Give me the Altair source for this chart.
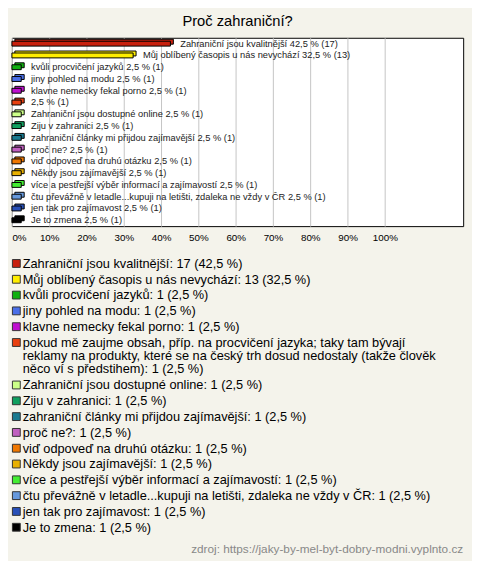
import altair as alt

# ---------------- data ----------------
bar_labels = [
    "Zahraniční jsou kvalitnější",
    "Můj oblíbený časopis u nás nevychází",
    "kvůli procvičení jazyků",
    "jiny pohled na modu",
    "klavne nemecky fekal porno",
    "",
    "Zahraniční jsou dostupné online",
    "Ziju v zahranici",
    "zahraniční články mi přijdou zajímavější",
    "proč ne?",
    "viď odpoveď na druhú otázku",
    "Někdy jsou zajímavější",
    "více a pestřejší výběr informací a zajímavostí",
    "čtu převážně v letadle...kupuji na letišti, zdaleka ne vždy v ČR",
    "jen tak pro zajímavost",
    "Je to zmena",
]
legend_names = [
    ["Zahraniční jsou kvalitnější"],
    ["Můj oblíbený časopis u nás nevychází"],
    ["kvůli procvičení jazyků"],
    ["jiny pohled na modu"],
    ["klavne nemecky fekal porno"],
    ["pokud mě zaujme obsah, příp. na procvičení jazyka; taky tam bývají",
     "reklamy na produkty, které se na český trh dosud nedostaly (takže člověk",
     "něco ví s předstihem)"],
    ["Zahraniční jsou dostupné online"],
    ["Ziju v zahranici"],
    ["zahraniční články mi přijdou zajímavější"],
    ["proč ne?"],
    ["viď odpoveď na druhú otázku"],
    ["Někdy jsou zajímavější"],
    ["více a pestřejší výběr informací a zajímavostí"],
    ["čtu převážně v letadle...kupuji na letišti, zdaleka ne vždy v ČR"],
    ["jen tak pro zajímavost"],
    ["Je to zmena"],
]
counts = [17, 13, 1, 1, 1, 1, 1, 1, 1, 1, 1, 1, 1, 1, 1, 1]
percents = [42.5, 32.5, 2.5, 2.5, 2.5, 2.5, 2.5, 2.5, 2.5, 2.5, 2.5, 2.5, 2.5, 2.5, 2.5, 2.5]
colors = [
    "#C8200E", "#FFEE00", "#10B010", "#4A6FE8", "#C010D0", "#E84010",
    "#CCFF88", "#10A060", "#1A7A90", "#C060C0", "#F07800", "#E8B000",
    "#44EE33", "#6699DD", "#2850B8", "#000000",
]
tick_values = [0, 10, 20, 30, 40, 50, 60, 70, 80, 90, 100]
title_text = "Proč zahraniční?"
source_text = "zdroj: https://jaky-by-mel-byt-dobry-modni.vyplnto.cz"

FONT = "Liberation Sans"
LINE_RATIO = 13.5 / 16.0

# ---------------- build records ----------------
def fmt(p):
    return ("%.1f" % p).replace(".", ",")

records = []
extra = 0
for i, (bl, ln, c, p) in enumerate(zip(bar_labels, legend_names, counts, percents)):
    lines = list(ln)
    lines[-1] = lines[-1] + ": %d (%s %%)" % (c, fmt(p))
    records.append({
        "idx": i,
        "pct": p,
        "barlabel": ("%s %s %% (%d)" % (bl, fmt(p), c)).strip(),
        "lines": lines,
        "row": i + 0.5 + extra * LINE_RATIO,
    })
    extra += len(ln) - 1

data = alt.InlineData(values=records)
idx_domain = list(range(len(bar_labels)))

color = alt.Color("idx:O", scale=alt.Scale(domain=idx_domain, range=colors), legend=None)
y_enc = alt.Y("idx:O", axis=None, scale=alt.Scale(domain=idx_domain))
x_enc = alt.X(
    "pct:Q",
    scale=alt.Scale(domain=[0, 121], nice=False),
    axis=alt.Axis(
        values=tick_values,
        labelExpr="datum.value + '%'",
        grid=True,
        gridColor="#C4C4C4",
        domain=False,
        ticks=False,
        labelFontSize=10,
        labelFont=FONT,
        labelColor="#000000",
        labelPadding=7,
        labelFlush=True,
        title=None,
    ),
)

base = alt.Chart(data)
back = base.mark_bar(size=5, xOffset=3, x2Offset=3, yOffset=-2, y2Offset=-2,
                     stroke="black", strokeWidth=1).encode(x=x_enc, y=y_enc, color=color)
front = base.mark_bar(size=5, stroke="black", strokeWidth=1).encode(x=x_enc, y=y_enc, color=color)
labels = base.mark_text(align="left", baseline="middle", dx=10, fontSize=9.5,
                        font=FONT, color="#222222").encode(
    x=alt.X("pct:Q"), y=y_enc, text="barlabel:N")

top = alt.layer(back, front, labels).properties(
    width=460,
    height=192,
    title=alt.TitleParams(title_text, fontSize=15, font=FONT, fontWeight="normal",
                          anchor="middle", color="#000000", offset=9),
    view=alt.ViewBackground(fill="white", stroke="black", strokeWidth=1),
)

y_leg = alt.Y("row:Q", axis=None, scale=alt.Scale(domain=[0, 17.5], reverse=True, nice=False, zero=False))
squares = base.mark_square(size=64, filled=True, opacity=1, stroke="#333333", strokeWidth=1).encode(
    x=alt.value(4.5), y=y_leg, color=color)
texts = base.mark_text(align="left", baseline="alphabetic", dy=4.5, fontSize=13,
                       lineHeight=13.5, font=FONT, color="#000000").encode(
    x=alt.value(11), y=y_leg, text="lines:N")

legend = alt.layer(squares, texts).properties(
    width=460,
    height=282,
    title=alt.TitleParams(source_text, orient="bottom", anchor="end", fontSize=12,
                          font=FONT, fontWeight="normal", color="#888888", offset=10),
)

chart = alt.vconcat(top, legend, spacing=12).properties(
    padding={"left": 2, "top": 0, "right": 8, "bottom": 0},
    background="#F4F3EB",
).configure_view(strokeWidth=0)

chart.save("out.html", embed_options={"renderer": "svg", "actions": False})
